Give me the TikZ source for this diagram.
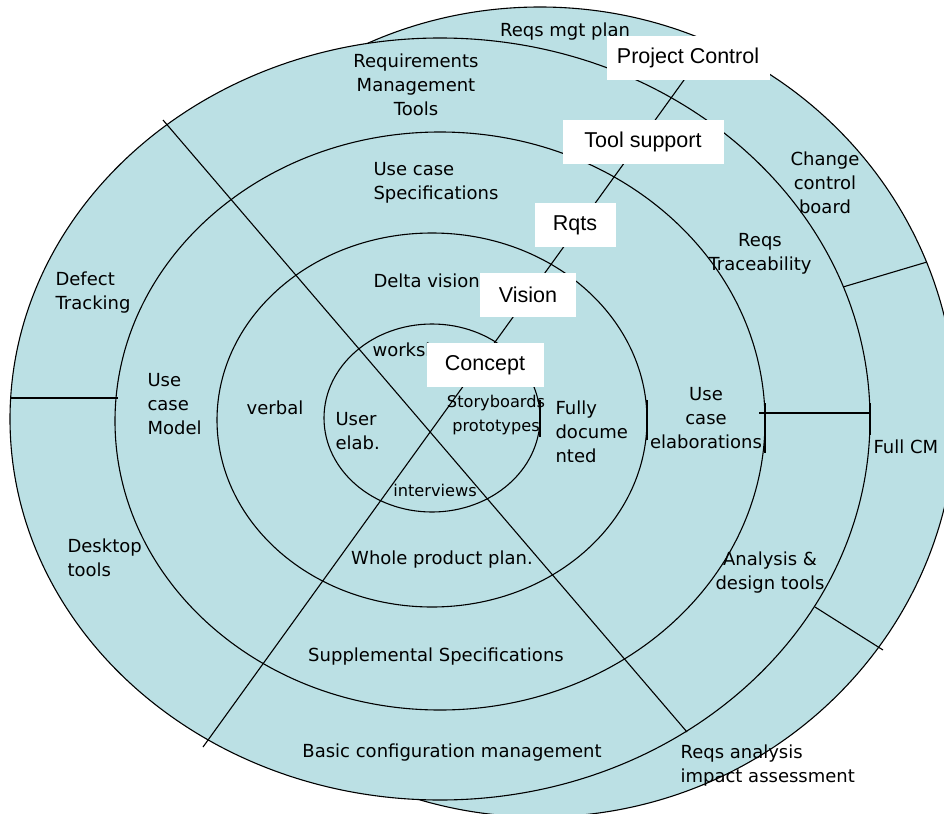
\documentclass[tikz,border=0pt]{standalone}
\usepackage{fontspec}
\setmainfont{DejaVu Sans}
\newfontfamily\boxfont{Liberation Sans}
\definecolor{ringfill}{RGB}{187,224,228}

\begin{document}
\begin{tikzpicture}[x=1pt,y=-1pt,line width=1.1pt,
	ring/.style={draw,fill=ringfill},
	lbl/.style={font=\fontsize{18}{24}\selectfont,inner sep=0pt},
	smalllbl/.style={font=\fontsize{16.2}{24}\selectfont,inner sep=0pt},
	tag/.style={fill=white,font=\boxfont\fontsize{21.5}{24}\selectfont,minimum height=44pt,inner sep=0pt}]
	\useasboundingbox (0,0) rectangle (944,813);
	\clip (0,0) rectangle (944,813);

	\draw[ring] (540,412) ellipse [x radius=416, y radius=405];
	\draw[ring] (440,419) ellipse [x radius=430, y radius=381];
	\draw (440,421) ellipse [x radius=325, y radius=289];
	\draw (432,420) ellipse [x radius=215, y radius=187];
	\draw (432,418) ellipse [x radius=108, y radius=94];

	\coordinate (nw) at (163,120);
	\coordinate (se) at (687,732);
	\coordinate (sw) at (203,747);
	\coordinate (ne) at (697,62);
	\draw (nw) -- (se);
	\draw (sw) -- (ne);

	\coordinate (w1) at (10,398);
	\coordinate (w2) at (118,398);
	\coordinate (e1) at (759,413);
	\coordinate (e2) at (870,413);
	\coordinate (ne1) at (843,287);
	\coordinate (ne2) at (927,262);
	\coordinate (se1) at (815,607);
	\coordinate (se2) at (883,650);
	\draw (w1) -- (w2);
	\draw (e1) -- (e2);
	\draw (ne1) -- (ne2);
	\draw (se1) -- (se2);

	\draw (540,400) -- (540,437);
	\draw (647,400) -- (647,440);
	\draw (765,403) -- (765,453);
	\draw (870,403) -- (870,435);

	\node[lbl] (mgtplan) at (565,32) {Reqs mgt plan};
	\node[lbl,align=center] (rmtools) at (416,85) {Requirements\\Management\\Tools};
	\node[lbl,align=left,anchor=west] (ucspec) at (373,183) {Use case\\Specifications};
	\node[lbl,anchor=west] (delta) at (373,281) {Delta vision};
	\node[lbl,anchor=west] (wshop) at (372,352) {workshops};
	\node[lbl,align=left,anchor=west] (userelab) at (335,431) {User\\elab.};
	\node[smalllbl,align=center] (story) at (496,415) {Storyboards\\prototypes};
	\node[smalllbl] (interv) at (435,490) {interviews};
	\node[lbl,align=left,anchor=west] (fully) at (555,432) {Fully\\docume\\nted};
	\node[lbl] (verbal) at (275,408) {verbal};
	\node[lbl,align=left,anchor=west] (ucmodel) at (147,404) {Use\\case\\Model};
	\node[lbl,align=left,anchor=west] (defect) at (55,293) {Defect\\Tracking};
	\node[lbl,align=left,anchor=west] (desktop) at (67,558) {Desktop\\tools};
	\node[lbl] (whole) at (442,560) {Whole product plan.};
	\node[lbl] (suppl) at (436,657) {Supplemental Specifications};
	\node[lbl] (basiccm) at (452,753) {Basic configuration management};
	\node[lbl,align=left,anchor=west] (impact) at (680,766) {Reqs analysis\\impact assessment};
	\node[lbl,align=center] (design) at (770,573) {Analysis \&\\design tools};
	\node[lbl,anchor=west] (fullcm) at (873,447) {Full CM};
	\node[lbl,align=center] (elab) at (706,418) {Use\\case\\elaborations};
	\node[lbl,align=center] (trace) at (760,254) {Reqs\\Traceability};
	\node[lbl,align=center] (ccb) at (825,183) {Change\\control\\board};

	\node[tag,minimum width=163pt] (pc) at (688,58) {Project Control};
	\node[tag,minimum width=161pt] (tools) at (643,142) {Tool support};
	\node[tag,minimum width=81pt] (rqts) at (575,225) {Rqts};
	\node[tag,minimum width=96pt] (vision) at (528,295) {Vision};
	\node[tag,minimum width=117pt] (concept) at (485,365) {Concept};
\end{tikzpicture}
\end{document}
